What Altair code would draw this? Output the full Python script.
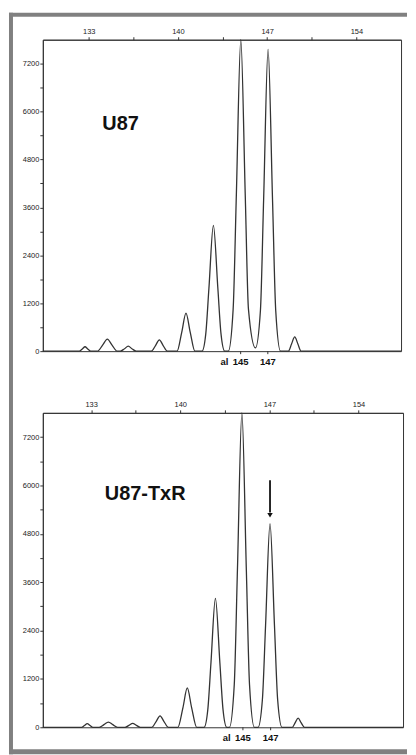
import altair as alt
import pandas as pd

# ---- data (size in bp, signal in RFU) ----
TOP_X = [129.4,
         132.25, 132.5, 132.71, 132.92, 133.17,
         133.68, 134.09, 134.46, 134.83, 135.24,
         135.48, 135.81, 136.10, 136.39, 136.72,
         137.91, 138.24, 138.54, 138.84, 139.17,
         139.93, 140.30, 140.63, 140.96, 141.33,
         141.89, 142.18, 142.43, 142.78, 143.13, 143.38, 143.67,
         143.95, 144.33, 144.58, 144.93, 145.28, 145.53,
         146.08,
         146.47, 146.72, 147.07, 147.42, 147.67, 148.05,
         148.66, 148.91, 149.16, 149.41, 149.66,
         157.5]
TOP_Y = [0,
         0, 55, 110, 55, 0,
         0, 150, 300, 150, 0,
         0, 62, 125, 62, 0,
         0, 141, 282, 141, 0,
         0, 478, 955, 478, 0,
         0, 425, 1575, 3150, 1575, 425, 0,
         0, 1053, 3900, 7800, 3900, 1053,
         80,
         1020, 3780, 7560, 3780, 1020, 0,
         0, 178, 356, 178, 0,
         0]

BOT_X = [129.2,
         132.24, 132.47, 132.69, 132.91, 133.14,
         133.63, 134.0, 134.35, 134.7, 135.07,
         135.66, 135.97, 136.26, 136.55, 136.86,
         137.75, 138.1, 138.41, 138.72, 139.07,
         139.81, 140.21, 140.55, 140.89, 141.29,
         141.87, 142.16, 142.41, 142.76, 143.11, 143.36, 143.65,
         143.86, 144.24, 144.49, 144.84, 145.19, 145.44, 145.82,
         146.11, 146.45, 146.7, 147.05, 147.4, 147.65, 147.99,
         148.8, 149.03, 149.26, 149.49, 149.76,
         157.5]
BOT_Y = [0,
         0, 45, 90, 45, 0,
         0, 65, 130, 65, 0,
         0, 48, 95, 48, 0,
         0, 142, 284, 142, 0,
         0, 488, 975, 488, 0,
         0, 432, 1600, 3200, 1600, 432, 0,
         0, 1053, 3900, 7800, 3900, 1053, 0,
         0, 682, 2525, 5050, 2525, 682, 0,
         0, 114, 227, 114, 0,
         0]

X_TICKS = [133, 136.5, 140, 143.5, 147, 150.5, 154]
Y_TICKS = [0, 600, 1200, 1800, 2400, 3000, 3600, 4200, 4800, 5400, 6000, 6600, 7200]
Y_MAX = 7800

ALLELE_TEXT = ["145", "147"]
TOP_ALLELE_X = [144.92, 147.05]
BOT_ALLELE_X = [144.92, 147.1]
AL_TEXT = "al"
AL_X = 143.65

NAMES = ["U87", "U87-TxR"]
NAME_X = [134.07, 134.07]
NAME_Y = [5532, 5628]

ARROW_X = 147.05
ARROW_Y = [6130, 5330]
ARROW_HEAD_Y = 5260

INK = "#333333"
FRAME = "#808080"
FONT = "Liberation Sans"


def panel(xs, ys, xdom, width, height, name, name_x, name_y, allele_x, arrow=False, frame=False):
    xsc = alt.Scale(domain=xdom, nice=False, zero=False)
    ysc = alt.Scale(domain=[0, Y_MAX], nice=False)
    xax = alt.Axis(orient="top", values=X_TICKS, title=None, grid=False,
                   labelExpr="datum.value % 7 == 0 ? format(datum.value, 'd') : ''",
                   tickSize=3, labelPadding=1, labelFlush=False)
    yax = alt.Axis(orient="left", values=Y_TICKS, title=None, grid=False,
                   labelExpr="datum.value % 1200 == 0 ? format(datum.value, 'd') : ''",
                   tickSize=3, labelPadding=1)

    def X(f="x"):
        return alt.X(f"{f}:Q", scale=xsc, axis=xax, title=None)

    def Y(f="y"):
        return alt.Y(f"{f}:Q", scale=ysc, axis=yax, title=None)

    trace = alt.Chart(pd.DataFrame({"x": xs, "y": ys})).mark_line(
        interpolate="monotone", color=INK, strokeWidth=1.3
    ).encode(x=X(), y=Y())

    label = alt.Chart(pd.DataFrame({"x": [name_x], "y": [name_y], "t": [name]})).mark_text(
        align="left", baseline="alphabetic", fontSize=20, fontWeight="bold", font=FONT, color="#111"
    ).encode(x=X(), y=Y(), text="t:N")

    adf = pd.DataFrame({"x": allele_x, "t": ALLELE_TEXT})
    alle = alt.Chart(adf).mark_text(
        align="center", baseline="middle", fontSize=9.5, fontWeight="bold", font=FONT, color="#111"
    ).encode(x=X(), y=alt.value(height + 11), text="t:N")
    alle_ticks = alt.Chart(adf).mark_rule(color=INK, strokeWidth=1).encode(
        x=X(), y=alt.value(height), y2=alt.value(height + 3))
    al = alt.Chart(pd.DataFrame({"x": [AL_X], "t": [AL_TEXT]})).mark_text(
        align="center", baseline="middle", fontSize=9.5, fontWeight="bold", font=FONT, color="#111"
    ).encode(x=X(), y=alt.value(height + 11), text="t:N")

    layers = [trace, label, alle, alle_ticks, al]

    if arrow:
        shaft = alt.Chart(pd.DataFrame({"x": [ARROW_X], "y": [ARROW_Y[0]], "y2": [ARROW_Y[1]]})).mark_rule(
            color="#111", strokeWidth=1.8
        ).encode(x=X(), y=Y(), y2="y2:Q")
        head = alt.Chart(pd.DataFrame({"x": [ARROW_X], "y": [ARROW_HEAD_Y]})).mark_point(
            shape="triangle-down", filled=True, color="#111", size=30, opacity=1
        ).encode(x=X(), y=Y())
        layers += [shaft, head]

    if frame:
        one = pd.DataFrame({"a": [0]})
        bar = dict(color=FRAME, strokeWidth=0)
        top_bar = alt.Chart(one).mark_rect(**bar).encode(
            x=alt.value(-34), x2=alt.value(366), y=alt.value(-27), y2=alt.value(-23))
        left_bar = alt.Chart(one).mark_rect(**bar).encode(
            x=alt.value(-34), x2=alt.value(-30), y=alt.value(-27), y2=alt.value(718))
        bottom_bar = alt.Chart(one).mark_rect(**bar).encode(
            x=alt.value(-34), x2=alt.value(366), y=alt.value(713), y2=alt.value(718))
        layers += [top_bar, left_bar, bottom_bar]

    return alt.layer(*layers).properties(width=width, height=height)


top = panel(TOP_X, TOP_Y, [129.4, 157.5], 360, 313, NAMES[0], NAME_X[0], NAME_Y[0],
            TOP_ALLELE_X, arrow=False, frame=True)
bottom = panel(BOT_X, BOT_Y, [129.2, 157.5], 362, 316, NAMES[1], NAME_X[1], NAME_Y[1],
               BOT_ALLELE_X, arrow=True, frame=False)

chart = alt.vconcat(top, bottom, spacing=62, bounds="flush").properties(
    padding={"left": 0, "top": 2, "right": 0, "bottom": 0},
    background="white",
).configure_view(
    stroke=INK, strokeWidth=1
).configure_axis(
    domainColor=INK, tickColor=INK, labelColor="#222", labelFont=FONT, labelFontSize=7.5,
    domainWidth=1, tickWidth=1
)

chart.save("out.html", embed_options={"renderer": "svg", "actions": False})
